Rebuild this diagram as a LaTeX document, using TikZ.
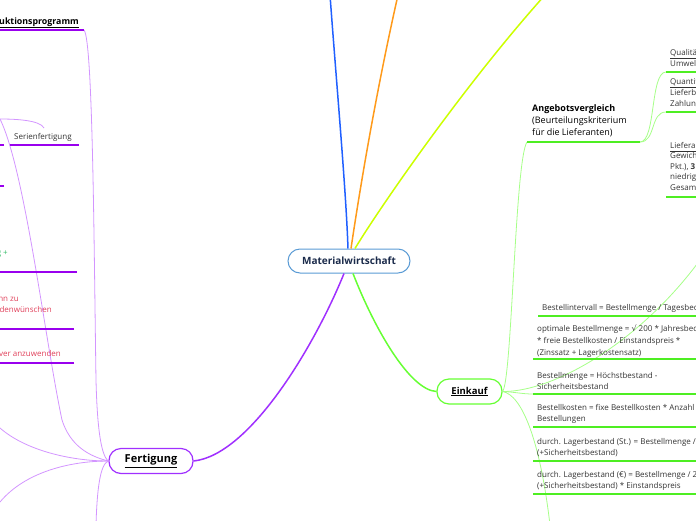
\documentclass[tikz,border=0pt]{standalone}
\usepackage{fontspec}
\setmainfont{Open Sans}
\newfontfamily\dejavu{DejaVu Sans}
\definecolor{cblue}{HTML}{2060FF}
\definecolor{corange}{HTML}{FF9A1A}
\definecolor{cyellow}{HTML}{CCFF00}
\definecolor{cpurple}{HTML}{A030FF}
\definecolor{cpurpleL}{HTML}{D395FF}
\definecolor{cpurpleU}{HTML}{9900EE}
\definecolor{cgreen}{HTML}{66FF33}
\definecolor{cgreenL}{HTML}{A6FF88}
\definecolor{cgreenU}{HTML}{4EEE22}
\definecolor{cborder}{HTML}{5A9BD5}
\definecolor{cnavy}{HTML}{1B2B4B}
\definecolor{ctext}{HTML}{333333}
\definecolor{cred}{HTML}{E0405A}
\definecolor{cgtext}{HTML}{33BB66}
\tikzset{
  mainnode/.style={draw=cborder, line width=1pt, rounded corners=12pt, fill=white,
    minimum width=122pt, minimum height=24pt, inner sep=0pt,
    font=\fontsize{10}{12}\selectfont\bfseries, text=cnavy},
  topic/.style={rounded corners=12pt, fill=white, line width=1.2pt, minimum height=25pt,
    inner sep=0pt, text=black},
  txt/.style={anchor=base west, inner sep=0pt, align=left,
    font=\fontsize{8}{11.3}\selectfont, text=ctext},
  txtr/.style={anchor=base east, inner sep=0pt, font=\fontsize{8}{11.3}\selectfont},
  ulp/.style={draw=cpurpleU, line width=2pt},
  ulg/.style={draw=cgreenU, line width=2pt},
  subp/.style={draw=cpurpleL, line width=0.8pt},
  subg/.style={draw=cgreenL, line width=0.8pt},
}
\begin{document}
\begin{tikzpicture}[x=1pt,y=-1pt]
\useasboundingbox (0,0) rectangle (696,520);
\clip (0,0) rectangle (696,520);

% nodes
\node[mainnode] (mw) at (349,261) {Materialwirtschaft};
\node[topic, draw=cpurple, minimum width=84pt, font=\fontsize{11}{13}\selectfont\bfseries] (fe) at (151,461) {\underline{Fertigung}};
\node[topic, draw=cgreen, minimum width=65pt, font=\fontsize{9.5}{11}\selectfont\bfseries] (ek) at (469.5,391.5) {\underline{Einkauf}};

% free ends
\coordinate (blueEnd) at (330,-5);
\coordinate (orEnd) at (398,-5);
\coordinate (yeEnd) at (545,-5);

% main connectors
\draw[cblue, line width=1.5pt] ([xshift=-1pt]mw.north) .. controls (346,190) and (337,90) .. (blueEnd);
\draw[corange, line width=1.5pt] ([xshift=2pt]mw.north) .. controls (356,215) and (372,110) .. (orEnd);
\draw[cyellow, line width=1.5pt] ([xshift=6pt]mw.north) .. controls (375,215) and (460,90) .. (yeEnd);
\draw[cpurple, line width=1.5pt] ([xshift=-5pt]mw.south) .. controls (315,345) and (250,455) .. (fe.east);
\draw[cgreen, line width=1.5pt] ([xshift=4pt]mw.south) .. controls (375,330) and (410,390) .. (ek.west);

% ---------- Einkauf side ----------
\coordinate (av) at (527,142);
\coordinate (avR) at (640,142);
\coordinate (q1) at (666,72);
\coordinate (q2) at (666,112);
\coordinate (q3) at (666,197);
\coordinate (ekUp) at (720,230);
\coordinate (ekDown) at (550,525);
\coordinate (b1) at (538,316);
\coordinate (b2) at (533,359);
\coordinate (b3) at (533,394);
\coordinate (b4) at (533,427);
\coordinate (b5) at (533,461);
\coordinate (b6) at (533,494);
\coordinate (rEdge) at (700,0);

\draw[subg] (ek.east) .. controls (512,380) and (515,160) .. (av);
\draw[subg] (ek.east) .. controls (560,392) and (660,330) .. (ekUp);
\draw[subg] (ek.east) .. controls (515,392) and (522,394) .. (b3);
\draw[subg] (ek.east) .. controls (522,395) and (540,440) .. (ekDown);
\draw[subg] (avR) .. controls (656,142) and (650,72) .. (q1);
\draw[subg] (avR) .. controls (656,142) and (650,112) .. (q2);

\draw[ulg] (av) -- (avR);
\draw[ulg] (q1) -- (q1 -| rEdge);
\draw[ulg] (q2) -- (q2 -| rEdge);
\draw[ulg] (q3) -- (q3 -| rEdge);
\draw[ulg] (b1) -- (b1 -| rEdge);
\draw[ulg] (b2) -- (b2 -| rEdge);
\draw[ulg] (b3) -- (b3 -| rEdge);
\draw[ulg] (b4) -- (b4 -| rEdge);
\draw[ulg] (b5) -- (b5 -| rEdge);
\draw[ulg] (b6) -- (b6 -| rEdge);

% (multi-line nodes: anchor is the baseline of the last line)
\node[txt, font=\fontsize{9}{11.6}\selectfont, text=black] (avt) at (532,135)
  {\textbf{Angebotsvergleich}\\(Beurteilungskriterium\\für die Lieferanten)};
\node[txt, font=\fontsize{8}{11}\selectfont] (q1t) at (670,66) {\underline{Qualität:}\\Umweltschutz};
\node[txt, font=\fontsize{8}{11}\selectfont] (q2t) at (670,106) {\underline{Quantität:}\\Lieferbedingungen\\Zahlungsbedingungen};
\node[txt, font=\fontsize{8}{10.5}\selectfont] (q3t) at (670,190) {\underline{Lieferantenbewertung:}\\Gewichtung (1\\Pkt.), \textbf{3} Pkt.\\niedrigster\\Gesamtpreis};

\node[txt] (b1t) at (542,310) {Bestellintervall = Bestellmenge / Tagesbedarf};
\node[txt, font=\fontsize{8}{12}\selectfont] (b2t) at (537,355) {optimale Bestellmenge = {\dejavu\fontsize{8}{12}\selectfont √} 200 * Jahresbedarf\\* freie Bestellkosten / Einstandspreis *\\(Zinssatz + Lagerkostensatz)};
\node[txt, font=\fontsize{8}{11}\selectfont] (b3t) at (537,389) {Bestellmenge = Höchstbestand -\\Sicherheitsbestand};
\node[txt, font=\fontsize{8}{11}\selectfont] (b4t) at (537,421) {Bestellkosten = fixe Bestellkosten * Anzahl der\\Bestellungen};
\node[txt, font=\fontsize{8}{11}\selectfont] (b5t) at (537,455) {durch. Lagerbestand (St.) = Bestellmenge / 2\\(+Sicherheitsbestand)};
\node[txt, font=\fontsize{8}{11}\selectfont] (b6t) at (537,488) {durch. Lagerbestand (€) = Bestellmenge / 2\\(+Sicherheitsbestand) * Einstandspreis};

% ---------- Fertigung side ----------
\coordinate (pp) at (84,30);
\coordinate (lA) at (0,119);
\coordinate (lB) at (44,128);
\coordinate (lC) at (0,428);
\coordinate (lD) at (0,502);
\coordinate (lE) at (96,525);
\coordinate (lEdge) at (-5,0);

\draw[subp] (fe.west) .. controls (100,455) and (97,420) .. (96,380)
  .. controls (94,250) and (93,40) .. (pp);
\draw[subp] (fe.west) .. controls (88,456) and (70,445) .. (62,420)
  .. controls (45,340) and (25,170) .. (lA);
\draw[subp] (lA) .. controls (15,119) and (40,120) .. (lB);
\draw[subp] (fe.west) .. controls (70,461) and (25,450) .. (lC);
\draw[subp] (fe.west) .. controls (70,461) and (25,472) .. (lD);
\draw[subp] (fe.west) .. controls (100,464) and (97,490) .. (lE);

\draw[ulp] (pp) -- (pp -| lEdge);
\coordinate (s1) at (10,145);
\coordinate (s2) at (79,145);
\draw[ulp] (s1) -- (s2);
\coordinate (s3) at (4,145);
\draw[ulp] (s3) -- (s3 -| lEdge);
\coordinate (s4) at (4,186);
\draw[ulp] (s4) -- (s4 -| lEdge);
\coordinate (s5) at (77,272);
\draw[ulp] (s5) -- (s5 -| lEdge);
\coordinate (s6) at (74,329);
\draw[ulp] (s6) -- (s6 -| lEdge);
\coordinate (s7) at (74,363);
\draw[ulp] (s7) -- (s7 -| lEdge);

\node[txtr, font=\fontsize{8.8}{11}\selectfont\bfseries, text=black] (ppt) at (79,24) {\underline{Produktionsprogramm}};
\node[txt] (sft) at (14,139) {Serienfertigung};
\node[txtr, text=cgtext] (fft) at (8,255) {Fließfertigung +};
\node[txtr, text=cred] (r1t) at (19,301) {Einzelfertigung, um ihn zu};
\node[txtr, text=cred] (r2t) at (52,312) {nach Kundenwünschen};
\node[txtr, text=cred] (r3t) at (61,356) {ist kostenintensiver anzuwenden};
\end{tikzpicture}
\end{document}
